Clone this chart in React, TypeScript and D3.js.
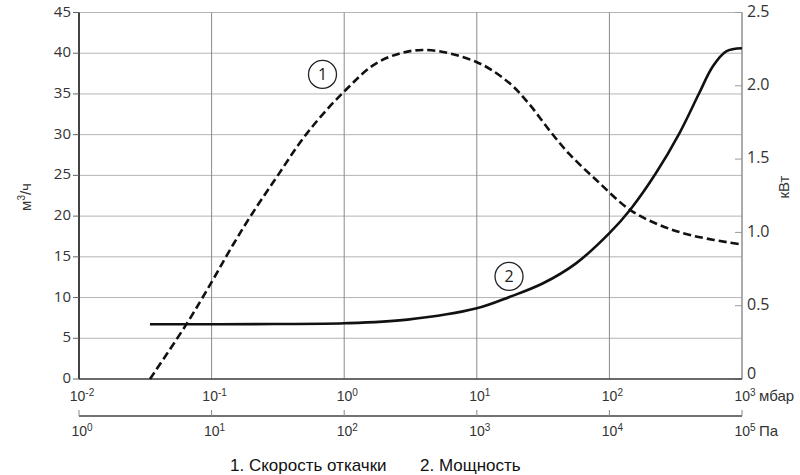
import { useEffect, useRef } from 'react';
import * as d3 from 'd3';

// Speed curve (1): pressure in mbar, pumping speed in m3/h
const speedPressure = [0.0343, 0.065, 0.1, 0.137, 0.195, 0.31, 0.52, 1.0, 1.85, 3.9, 10, 17.7, 25, 35.4, 50, 80, 142, 239, 426, 1000];
const speedValues = [0, 6.8, 11.9, 15.8, 19.9, 24.8, 30.1, 35.3, 39.0, 40.4, 38.9, 36.3, 33.7, 30.5, 27.6, 24.4, 20.8, 18.9, 17.6, 16.5];

// Power curve (2): pressure in mbar, power in kW
const powerPressure = [0.0343, 0.3, 1.0, 3.0, 10, 17.8, 31.6, 56, 100, 145, 224, 337, 475, 600, 760, 1000];
const powerValues = [0.373, 0.375, 0.38, 0.405, 0.482, 0.561, 0.653, 0.789, 0.995, 1.16, 1.403, 1.676, 1.949, 2.13, 2.235, 2.256];

const mbarTicks = [-2, -1, 0, 1, 2, 3];
const paTicks = [0, 1, 2, 3, 4, 5];
const leftTicks = [0, 5, 10, 15, 20, 25, 30, 35, 40, 45];
const rightTicks = [0, 0.5, 1.0, 1.5, 2.0, 2.5];

const legendItems = ['1. Скорость откачки', '2. Мощность'];

const WIDTH = 800;
const HEIGHT = 475;
const MARGIN = { top: 12.5, right: 58, bottom: 96, left: 79 };
const FONT = '"Liberation Sans", Arial, sans-serif';
const TICK_FONT = '"Open Sans", "DejaVu Sans", sans-serif';

export default function App() {
  const svgRef = useRef<SVGSVGElement>(null);

  useEffect(() => {
    if (!svgRef.current) return;
    const svg = d3.select(svgRef.current);
    svg.selectAll('*').remove();

    const x0 = MARGIN.left;
    const x1 = WIDTH - MARGIN.right;
    const y0 = HEIGHT - MARGIN.bottom;
    const y1 = MARGIN.top;

    const x = d3.scaleLog().domain([0.01, 1000]).range([x0, x1]);
    const xPa = d3.scaleLog().domain([1, 100000]).range([x0, x1]);
    const yL = d3.scaleLinear().domain([0, 45]).range([y0, y1]);
    const yR = d3.scaleLinear().domain([0, 2.5]).range([y0, y1]);

    svg.append('rect').attr('width', WIDTH).attr('height', HEIGHT).attr('fill', '#ffffff');

    // Gridlines
    const grid = svg.append('g').attr('stroke', '#b4b4b4').attr('stroke-width', 1);
    leftTicks.forEach(t => {
      grid.append('line').attr('x1', x0).attr('x2', x1).attr('y1', yL(t)).attr('y2', yL(t));
    });
    mbarTicks.forEach(t => {
      grid
        .append('line')
        .attr('x1', x(10 ** t))
        .attr('x2', x(10 ** t))
        .attr('y1', y1)
        .attr('y2', y0)
        .attr('stroke', '#8a8a8a');
    });

    // Right axis (kW)
    svg.append('line').attr('x1', x1).attr('x2', x1).attr('y1', y1).attr('y2', y0).attr('stroke', '#9a9a9a').attr('stroke-width', 1.2);
    rightTicks.forEach(t => {
      svg.append('line').attr('x1', x1 - 7).attr('x2', x1).attr('y1', yR(t)).attr('y2', yR(t)).attr('stroke', '#9a9a9a');
      svg
        .append('text')
        .attr('x', x1 + 5)
        .attr('y', yR(t) - (t === 0 ? 4 : 0))
        .attr('dominant-baseline', 'middle')
        .attr('font-family', TICK_FONT)
        .attr('font-size', 16)
        .attr('fill', '#333')
        .text(t === 0 ? '0' : t.toFixed(1));
    });

    // Left axis (m3/h)
    svg.append('line').attr('x1', x0).attr('x2', x0).attr('y1', y1).attr('y2', y0).attr('stroke', '#222').attr('stroke-width', 1.6);
    leftTicks.forEach(t => {
      svg.append('line').attr('x1', x0 - 6).attr('x2', x0).attr('y1', yL(t)).attr('y2', yL(t)).attr('stroke', '#666');
      svg
        .append('text')
        .attr('x', x0 - 8)
        .attr('y', yL(t))
        .attr('text-anchor', 'end')
        .attr('dominant-baseline', 'middle')
        .attr('font-family', TICK_FONT)
        .attr('font-size', 15)
        .attr('fill', '#333')
        .text(t);
    });

    // Bottom axis (mbar)
    svg.append('line').attr('x1', x0).attr('x2', x1).attr('y1', y0).attr('y2', y0).attr('stroke', '#444').attr('stroke-width', 1.6);
    const powLabel = (g: any, px: number, py: number, exp: number) => {
      const t = g
        .append('text')
        .attr('x', px)
        .attr('y', py)
        .attr('text-anchor', 'middle')
        .attr('font-family', FONT)
        .attr('font-size', 14)
        .attr('fill', '#333');
      t.append('tspan').text('10');
      t.append('tspan').attr('dy', -5).attr('font-size', 10).text(`${exp}`);
    };
    mbarTicks.forEach(t => powLabel(svg, x(10 ** t) + 3, y0 + 22, t));
    svg
      .append('text')
      .attr('x', x1 + 17)
      .attr('y', y0 + 22)
      .attr('font-family', FONT)
      .attr('font-size', 15)
      .attr('fill', '#333')
      .text('мбар');

    // Second bottom axis (Pa)
    const yPa = y0 + 37;
    svg.append('line').attr('x1', x0).attr('x2', x1).attr('y1', yPa).attr('y2', yPa).attr('stroke', '#444').attr('stroke-width', 1.6);
    paTicks.forEach(t => {
      svg.append('line').attr('x1', xPa(10 ** t)).attr('x2', xPa(10 ** t)).attr('y1', yPa - 6).attr('y2', yPa).attr('stroke', '#888');
      powLabel(svg, xPa(10 ** t) + 3, yPa + 20, t);
    });
    svg
      .append('text')
      .attr('x', x1 + 17)
      .attr('y', yPa + 20)
      .attr('font-family', FONT)
      .attr('font-size', 15)
      .attr('fill', '#333')
      .text('Па');

    // Axis titles
    const yTitle = svg
      .append('text')
      .attr('transform', 'translate(31, 197) rotate(-90)')
      .attr('text-anchor', 'middle')
      .attr('font-family', FONT)
      .attr('font-size', 15)
      .attr('fill', '#333');
    yTitle.append('tspan').text('м');
    yTitle.append('tspan').attr('dy', -6).attr('font-size', 10).text('3');
    yTitle.append('tspan').attr('dy', 6).text('/ч');
    svg
      .append('text')
      .attr('transform', 'translate(789, 187) rotate(-90)')
      .attr('text-anchor', 'middle')
      .attr('font-family', FONT)
      .attr('font-size', 15)
      .attr('fill', '#333')
      .text('кВт');

    // Curves
    const speedData = speedPressure.map((p, i) => [p, speedValues[i]] as [number, number]);
    const powerData = powerPressure.map((p, i) => [p, powerValues[i]] as [number, number]);
    const speedLine = d3
      .line<[number, number]>()
      .x(d => x(d[0]))
      .y(d => yL(d[1]))
      .curve(d3.curveCatmullRom.alpha(0.5));
    const powerLine = d3
      .line<[number, number]>()
      .x(d => x(d[0]))
      .y(d => yR(d[1]))
      .curve(d3.curveCatmullRom.alpha(0.5));
    svg
      .append('path')
      .attr('d', speedLine(speedData))
      .attr('fill', 'none')
      .attr('stroke', '#111')
      .attr('stroke-width', 2.6)
      .attr('stroke-dasharray', '8,4');
    svg
      .append('path')
      .attr('d', powerLine(powerData))
      .attr('fill', 'none')
      .attr('stroke', '#111')
      .attr('stroke-width', 2.6);

    // Curve markers
    const marker = (cx: number, cy: number, label: string) => {
      svg.append('circle').attr('cx', cx).attr('cy', cy).attr('r', 14).attr('fill', '#fff').attr('stroke', '#222').attr('stroke-width', 1.3);
      svg
        .append('text')
        .attr('x', cx)
        .attr('y', cy + 1)
        .attr('text-anchor', 'middle')
        .attr('dominant-baseline', 'middle')
        .attr('font-family', TICK_FONT)
        .attr('font-size', 16)
        .attr('fill', '#222')
        .text(label);
    };
    marker(x(0.686), yL(37.4), '1');
    marker(x(17.5), yR(0.70), '2');

    // Legend
    svg
      .append('text')
      .attr('x', 230)
      .attr('y', 471)
      .attr('font-family', FONT)
      .attr('font-size', 17)
      .attr('fill', '#111')
      .text(legendItems[0]);
    svg
      .append('text')
      .attr('x', 420)
      .attr('y', 471)
      .attr('font-family', FONT)
      .attr('font-size', 17)
      .attr('fill', '#111')
      .text(legendItems[1]);
  }, []);

  return (
    <svg
      ref={svgRef}
      width={WIDTH}
      height={HEIGHT}
      style={{ position: 'absolute', left: 0, top: 0, display: 'block' }}
    />
  );
}
